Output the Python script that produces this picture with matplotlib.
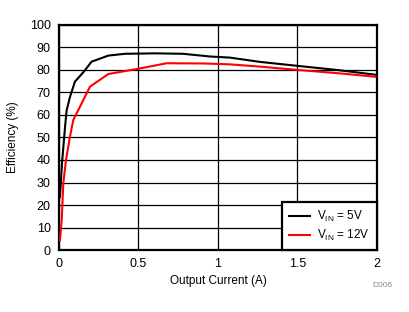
import matplotlib
matplotlib.use("Agg")
import matplotlib.pyplot as plt

plt.rcParams['font.family'] = ['Liberation Sans', 'DejaVu Sans']

i_5v = [0.006, 0.019, 0.038, 0.048, 0.069, 0.10, 0.153, 0.205, 0.31, 0.415, 0.60, 0.78, 0.95, 1.076, 1.264, 1.505, 1.75, 1.99]
eff_5v = [23.5, 38.7, 54.7, 62.0, 68.0, 74.8, 79.0, 83.7, 86.4, 87.2, 87.4, 87.2, 86.0, 85.5, 83.6, 81.8, 80.0, 77.9]

i_12v = [0.006, 0.017, 0.027, 0.044, 0.069, 0.09, 0.195, 0.31, 0.51, 0.677, 0.906, 1.076, 1.264, 1.505, 1.75, 1.99]
eff_12v = [4.4, 13.3, 29.6, 40.0, 50.4, 57.8, 72.6, 78.2, 80.7, 83.0, 82.9, 82.5, 81.5, 80.0, 78.6, 77.0]

x_ticks = [0, 0.5, 1, 1.5, 2]
x_tick_labels = ['0', '0.5', '1', '1.5', '2']
y_ticks = list(range(0, 101, 10))

fig = plt.figure(figsize=(4.1, 3.12), dpi=100)
ax = fig.add_axes([0.1439, 0.1987, 0.7756, 0.7212])

ax.plot(i_5v, eff_5v, color='black', lw=1.5, label=r'V$_\mathregular{IN}$ = 5V', zorder=3)
ax.plot(i_12v, eff_12v, color='#ff0000', lw=1.5, label=r'V$_\mathregular{IN}$ = 12V', zorder=3)

ax.set_xlim(0, 2)
ax.set_ylim(0, 100)
ax.set_xticks(x_ticks)
ax.set_xticklabels(x_tick_labels)
ax.set_yticks(y_ticks)
ax.tick_params(length=0, labelsize=9, pad=6)
ax.grid(True, color='black', lw=0.9)
ax.set_axisbelow(True)
for s in ax.spines.values():
    s.set_linewidth(1.6)

ax.set_xlabel('Output Current (A)', fontsize=8.5, labelpad=3)
ax.set_ylabel('Efficiency (%)', fontsize=8.5, labelpad=8)

leg = ax.legend(loc='lower right', fontsize=8.5, frameon=True, fancybox=False,
                borderaxespad=0, handlelength=1.75, handletextpad=0.6,
                labelspacing=0.3, borderpad=0.6)
leg.get_frame().set_edgecolor('black')
leg.get_frame().set_linewidth(1.6)
leg.get_frame().set_alpha(1)

fig.text(0.9585, 0.0865, 'D006', fontsize=6, color='#888888', ha='right', va='center')

fig.savefig('out.png', dpi=100)
